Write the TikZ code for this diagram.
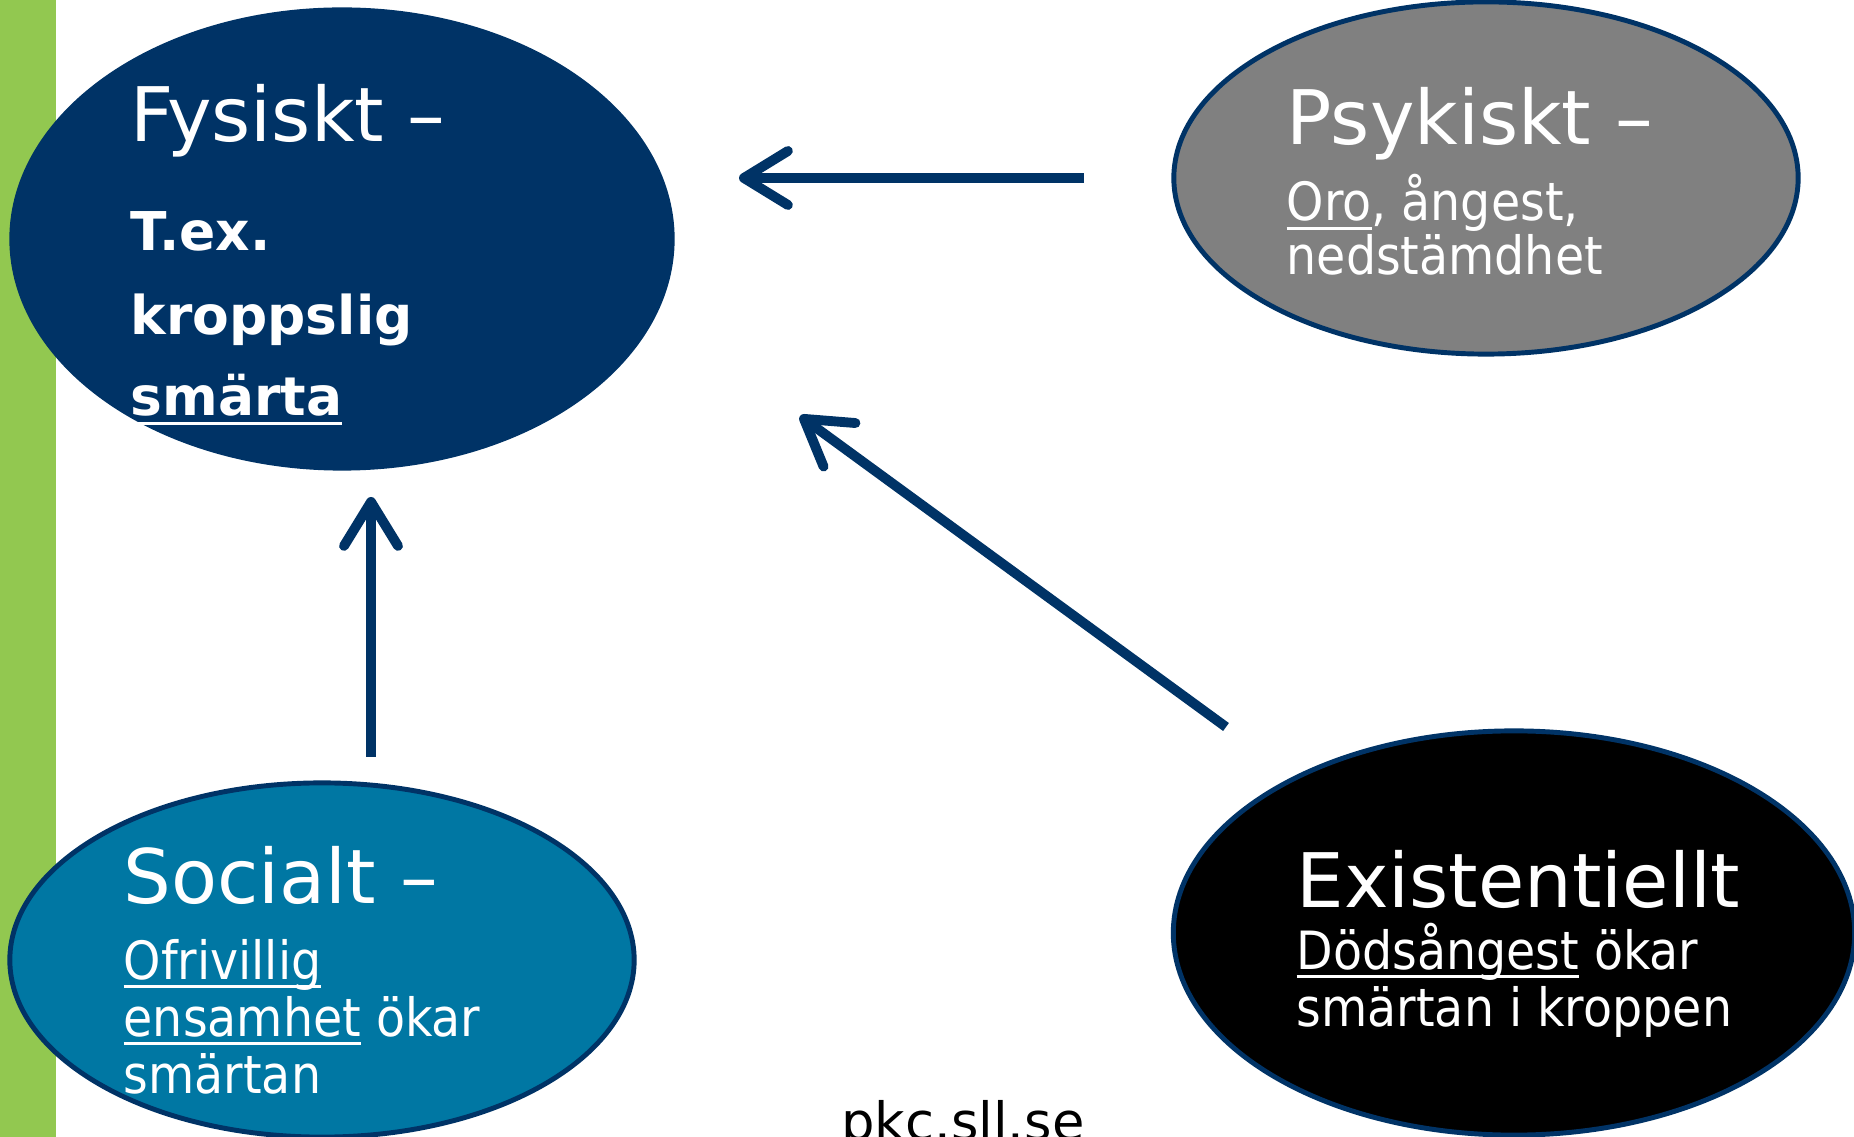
\documentclass[tikz,border=0pt]{standalone}
\usepackage{fontspec}
\setmainfont{DejaVu Sans}
\newfontfamily\narrowfont{DejaVu Sans}[FakeStretch=0.9]
\usetikzlibrary{shapes.geometric,arrows.meta,positioning}
\definecolor{navy}{RGB}{0,51,102}
\definecolor{barGreen}{RGB}{146,200,80}
\definecolor{psyGray}{RGB}{128,128,128}
\definecolor{socBlue}{RGB}{0,119,163}
\newsavebox{\undlbox}
\newcommand{\undl}[1]{\sbox{\undlbox}{#1}\rlap{\rule[-2.6pt]{\wd\undlbox}{0.8pt}}\usebox{\undlbox}}

\begin{document}
\begin{tikzpicture}[x=0.01cm, y=-0.01cm, >={Straight Barb[length=4.4mm, width=5.4mm, round]},
      blob/.style={ellipse, draw=navy, line width=1.4pt, inner sep=0pt},
      ttl/.style={anchor=base west, text=white, inner sep=0pt,
                  font=\fontsize{21.4}{26}\selectfont},
      txt/.style={anchor=base west, text=white, inner sep=0pt,
                  font=\narrowfont\fontsize{15}{18}\selectfont},
      btxt/.style={anchor=base west, text=white, inner sep=0pt,
                   font=\bfseries\fontsize{15.2}{18}\selectfont},
      ar/.style={->, navy, line width=2.8pt}]
    \useasboundingbox (0,0) rectangle (1854,1137);
    % --- green side bar ---
    \fill[barGreen] (0,0) rectangle (56,1137);
    % --- the four dimensions ---
    \node[blob, fill=navy, minimum width=6.6cm, minimum height=4.58cm] (fys) at (342,239) {};
    \node[blob, fill=psyGray, minimum width=6.24cm, minimum height=3.52cm] (psy) at (1486,178) {};
    \node[blob, fill=socBlue, minimum width=6.24cm, minimum height=3.54cm] (soc) at (322,960) {};
    \node[blob, fill=black, minimum width=6.81cm, minimum height=4.04cm] (exi) at (1514,933) {};
    % --- texts ---
    \node[ttl] (fysT) at (130,142) {Fysiskt –};
    \node[btxt] (fys1) at (130,251) {T.ex.};
    \node[btxt] (fys2) at (130,335) {kroppslig};
    \node[btxt] (fys3) at (130,416) {\undl{smärta}};
    \node[ttl] (psyT) at (1286,145) {Psykiskt –};
    \node[txt] (psy1) at (1286,221) {\undl{Oro}, ångest,};
    \node[txt] (psy2) at (1286,275) {nedstämdhet};
    \node[ttl] (socT) at (123,903) {Socialt –};
    \node[txt] (soc1) at (123,979) {\undl{Ofrivillig}};
    \node[txt] (soc2) at (123,1036) {\undl{ensamhet} ökar};
    \node[txt] (soc3) at (123,1093) {smärtan};
    \node[ttl] (exiT) at (1296,907) {Existentiellt};
    \node[txt] (exi1) at (1296,969) {\undl{Dödsångest} ökar};
    \node[txt] (exi2) at (1296,1027) {smärtan i kroppen};
    \node[anchor=base, inner sep=0pt, font=\fontsize{15}{18}\selectfont] (url) at (963,1140) {pkc.sll.se};
    % --- arrows, all towards the physical pain ---
    \coordinate (psyOut) at (1084,178);
    \coordinate (fysInA) at (739,178);
    \coordinate (socOut) at (371,757);
    \coordinate (fysInB) at (371,497);
    \coordinate (exiOut) at (1226,727);
    \coordinate (fysInC) at (800,416);
    \draw[ar] (psyOut) -- (fysInA);
    \draw[ar] (socOut) -- (fysInB);
    \draw[ar] (exiOut) -- (fysInC);
\end{tikzpicture}
\end{document}
